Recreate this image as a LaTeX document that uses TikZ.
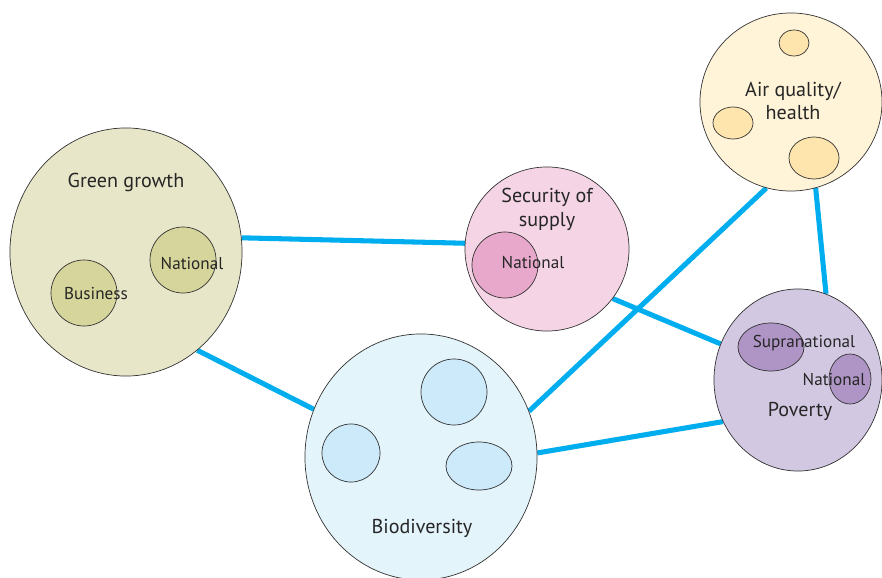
\documentclass[tikz,border=0pt]{standalone}
\usepackage{fontspec}
\setmainfont{PT Sans}
\usetikzlibrary{shapes.geometric, backgrounds}

\definecolor{linkblue}{HTML}{00AEEF}
\definecolor{ggfill}{HTML}{E7E6C9}
\definecolor{gginner}{HTML}{D6D59B}
\definecolor{secfill}{HTML}{F5D5E5}
\definecolor{secinner}{HTML}{E7A8CC}
\definecolor{airfill}{HTML}{FFF3D8}
\definecolor{airinner}{HTML}{FEE4AD}
\definecolor{povfill}{HTML}{D2C8E2}
\definecolor{povinner}{HTML}{AF95C6}
\definecolor{biofill}{HTML}{E3F4FB}
\definecolor{bioinner}{HTML}{CCEAF9}

\begin{document}
\begin{tikzpicture}[x=0.025cm, y=-0.025cm,
    blob/.style 2 args={ellipse, draw=black!80, line width=0.5pt, inner sep=0pt,
        minimum width=#1*0.05cm, minimum height=#2*0.05cm},
    title/.style={font=\fontsize{14.3}{17}\selectfont, align=center, text=black!85},
    small/.style={font=\fontsize{12.2}{14}\selectfont, text=black!85},
    link/.style={draw=linkblue, line width=3.6pt}]
    % Page
    \useasboundingbox (0,0) rectangle (882,578);

    % Green growth
    \node[blob={116}{124}, fill=ggfill] (gg) at (126,252) {};
    \node[blob={33}{33}, fill=gginner] (ggnat) at (183,260) {};
    \node[blob={33}{33}, fill=gginner] (ggbus) at (84,293) {};
    \node[title] (ggt) at (126,182) {Green growth};
    \node[small] (ggnatt) at (192,264) {National};
    \node[small] (ggbust) at (96,294) {Business};

    % Security of supply
    \node[blob={82}{82}, fill=secfill] (sec) at (547,249) {};
    \node[blob={33}{33}, fill=secinner] (secnat) at (505,265) {};
    \node[title] (sect) at (547,209) {Security of\\supply};
    \node[small] (secnatt) at (533,263) {National};

    % Air quality
    \node[blob={91}{89}, fill=airfill] (air) at (791,102) {};
    \node[blob={15}{13}, fill=airinner] (air1) at (794,43) {};
    \node[blob={20}{16}, fill=airinner] (air2) at (733,123) {};
    \node[blob={25}{21}, fill=airinner] (air3) at (814,158) {};
    \node[title] (airt) at (793,101) {Air quality/\\health};

    % Poverty
    \node[blob={84}{91}, fill=povfill] (pov) at (798,380) {};
    \node[blob={33}{24}, fill=povinner] (povsup) at (771,347) {};
    \node[blob={21}{25}, fill=povinner] (povnat) at (850,379) {};
    \node[small] (povsupt) at (804,343) {Supranational};
    \node[small] (povnatt) at (834,380) {National};
    \node[title] (povt) at (800,411) {Poverty};

    % Biodiversity
    \node[blob={116}{123}, fill=biofill] (bio) at (421,457) {};
    \node[blob={33}{33}, fill=bioinner] (bio1) at (454,392) {};
    \node[blob={29}{29}, fill=bioinner] (bio2) at (351,453) {};
    \node[blob={33}{24}, fill=bioinner] (bio3) at (479,466) {};
    \node[title] (biot) at (422,528) {Biodiversity};

    % Links behind the circles
    \begin{scope}[on background layer]
        \draw[link] (gg.7) -- (sec.176);
        \draw[link] (gg.-54) -- (bio.156);
        \draw[link] (sec.-37) -- (pov.155);
        \draw[link] (bio.23) -- (air.254);
        \draw[link] (bio.2) -- (pov.209);
        \draw[link] (air.286) -- (pov.72);
    \end{scope}
\end{tikzpicture}
\end{document}
